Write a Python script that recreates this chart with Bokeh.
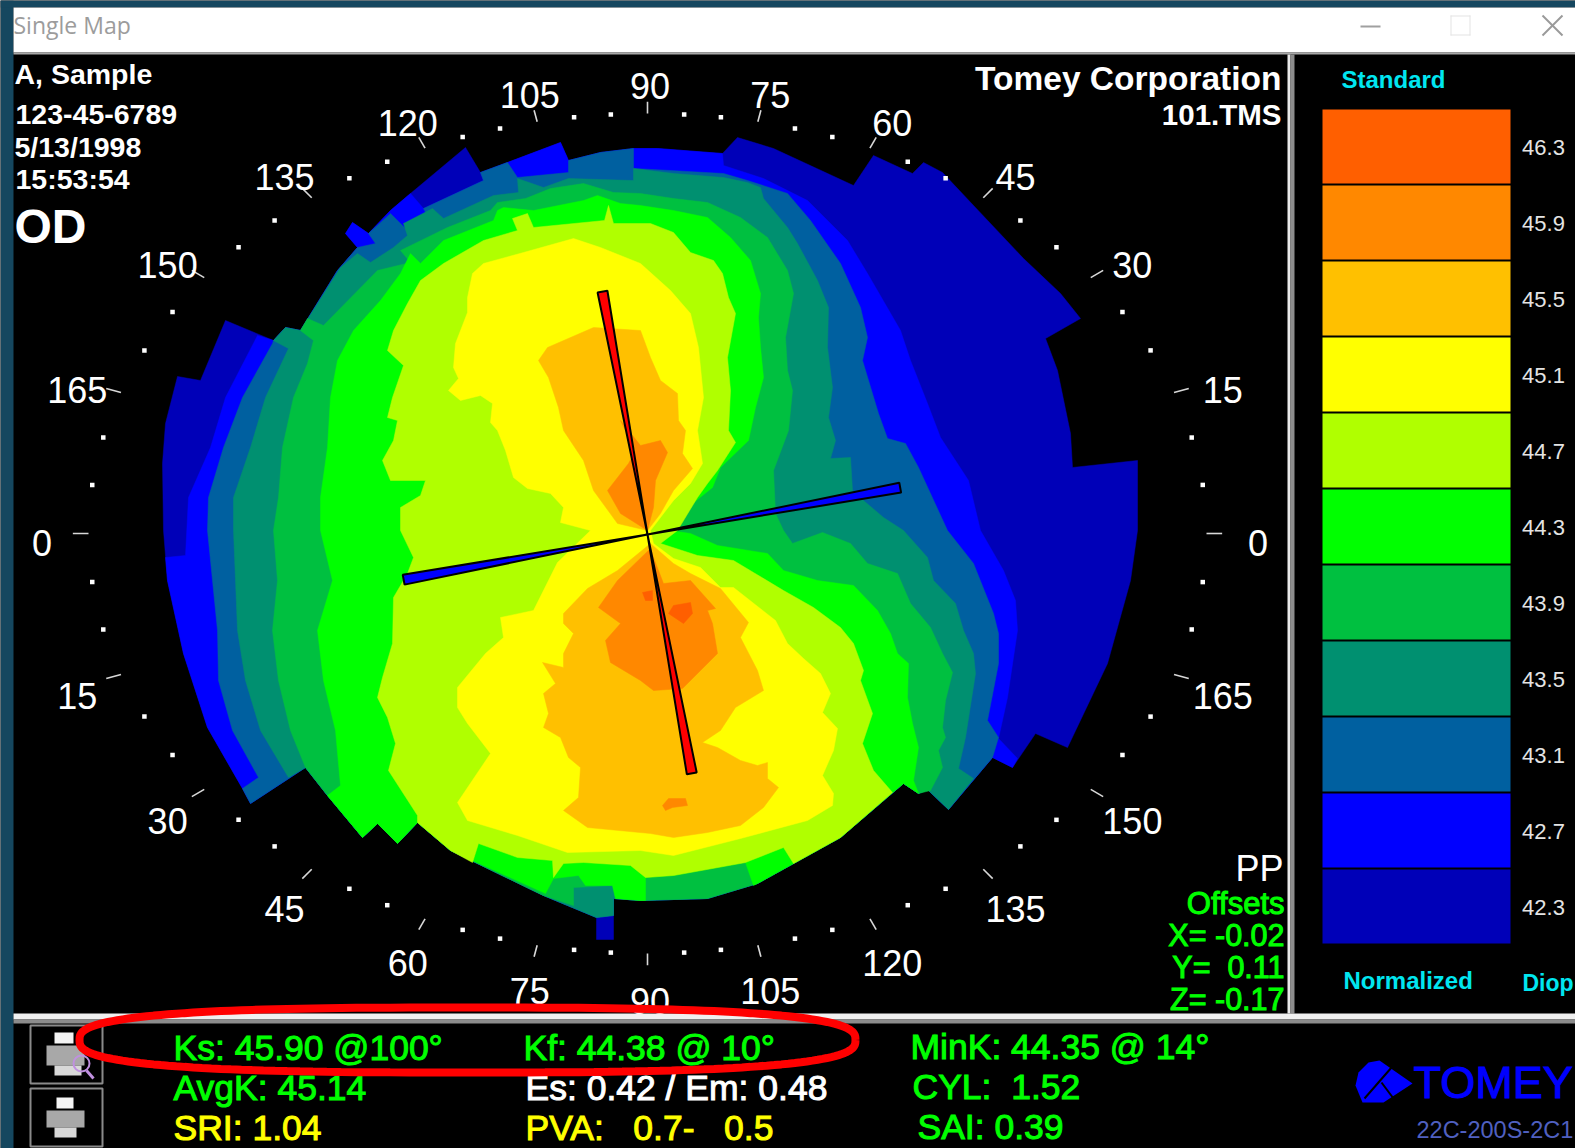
import numpy as np
from bokeh.plotting import figure
from bokeh.models import Range1d
from bokeh.core.properties import value
from bokeh.embed import file_html
from bokeh.resources import INLINE

# ---- data ----------------------------------------------------------------
LEGEND_VALUES = ["46.3", "45.9", "45.5", "45.1", "44.7", "44.3", "43.9", "43.5", "43.1", "42.7", "42.3"]
LEGEND_COLORS = ["#FF5F00", "#FF8800", "#FFC000", "#FFFF00", "#B0FF00", "#00FF00",
                 "#00C040", "#009070", "#0060A0", "#0000FF", "#0000B8"]
MERIDIAN_LABELS = ["0", "15", "30", "45", "60", "75", "90", "105", "120", "135", "150", "165",
                   "0", "15", "30", "45", "60", "75", "90", "105", "120", "135", "150", "165"]
STEEP_AXIS_DEG = 100.5
FLAT_AXIS_DEG = 10.5
STEEP_ARMS = [247, 243]
FLAT_ARMS = [257, 248]

band_423 = [(1137,460),(1072,467),(1070,433),(1057,370),(1045,338),(1080,318),(1060,293),(1023,258),(973,205),(942,172),(923,162),(912,173),(873,155),(853,185),(773,148),(737,137),(722,153),(657,148),(633,148),(600,152),(568,160),(560,142),(507,162),(480,172),(465,147),(410,193),(390,210),(368,233),(352,222),(345,233),(357,247),(337,270),(300,330),(285,327),(273,340),(225,320),(200,380),(177,376),(165,423),(162,463),(163,530),(167,580),(183,653),(207,727),(242,788),(250,803),(305,767),(327,795),(362,837),(377,823),(397,843),(417,822),(450,850),(543,895),(596,917),(596,939),(613,939),(613,898),(640,900),(707,898),(757,883),(840,837),(903,783),(918,793),(927,789),(948,809),(992,757),(1012,767),(1035,733),(1067,747),(1107,663),(1130,580),(1137,530)]
band_427 = [(980,530),(968,480),(940,437),(927,403),(910,360),(900,330),(867,273),(847,240),(807,200),(763,178),(723,165),(722,153),(657,148),(633,148),(600,152),(568,160),(560,142),(507,162),(480,172),(483,180),(423,208),(410,193),(390,210),(368,233),(352,222),(345,233),(357,247),(337,270),(300,330),(285,327),(273,340),(257,335),(225,397),(210,447),(188,497),(185,555),(165,557),(167,580),(183,653),(207,727),(242,788),(250,803),(305,767),(327,795),(362,837),(377,823),(397,843),(417,822),(450,850),(543,895),(596,917),(613,915),(613,898),(640,900),(707,898),(757,883),(840,837),(903,783),(918,793),(927,789),(948,809),(992,757),(1012,767),(1017,758),(998,738),(1007,697),(1017,630),(1015,600),(1003,570)]
band_431 = [(947,530),(918,467),(905,443),(887,438),(878,413),(862,360),(867,337),(860,307),(840,263),(810,220),(787,193),(747,180),(723,173),(670,170),(633,168),(633,148),(600,152),(568,160),(568,172),(517,177),(507,162),(480,172),(483,180),(423,208),(428,217),(405,228),(390,213),(368,233),(375,243),(357,247),(337,270),(300,330),(285,327),(273,340),(272,343),(242,397),(223,447),(208,497),(207,530),(212,580),(217,630),(218,680),(232,730),(258,777),(242,788),(250,803),(305,767),(327,795),(362,837),(377,823),(397,843),(417,822),(450,850),(543,895),(596,917),(613,915),(613,898),(640,900),(707,898),(757,883),(840,837),(903,783),(918,793),(927,789),(948,809),(992,757),(998,737),(987,720),(998,663),(998,633),(993,613),(973,563)]
band_435 = [(903,530),(883,517),(863,500),(852,490),(850,457),(830,458),(835,440),(828,417),(832,387),(827,347),(828,307),(817,280),(797,243),(787,227),(763,198),(760,187),(747,182),(723,177),(673,173),(633,168),(633,180),(568,178),(543,187),(517,178),(518,192),(493,195),(443,218),(432,208),(403,223),(407,235),(393,247),(370,262),(357,253),(340,267),(300,330),(285,327),(273,340),(288,348),(265,397),(250,447),(233,497),(233,530),(235,580),(237,630),(245,680),(260,730),(288,777),(305,767),(327,795),(362,837),(377,823),(397,843),(417,822),(450,850),(543,895),(596,917),(613,915),(613,898),(640,900),(707,898),(757,883),(840,837),(903,783),(918,793),(927,789),(948,809),(973,778),(958,768),(965,737),(975,673),(973,653),(963,630),(955,603),(933,580),(927,557)]
band_439 = [(783,530),(775,513),(773,470),(788,430),(792,390),(787,370),(785,337),(793,293),(787,270),(767,237),(740,217),(707,202),(673,198),(640,193),(613,192),(583,183),(550,188),(525,198),(497,202),(490,210),(447,227),(400,250),(410,262),(377,270),(323,325),(307,318),(300,330),(313,340),(307,363),(293,397),(282,447),(278,497),(273,530),(277,580),(272,630),(278,680),(290,730),(305,767),(327,795),(362,837),(377,823),(397,843),(417,822),(450,850),(543,895),(573,905),(573,887),(612,885),(615,898),(640,900),(707,898),(757,883),(840,837),(903,783),(918,793),(930,790),(942,767),(938,750),(945,737),(942,727),(945,700),(952,672),(942,653),(930,627),(910,603),(897,573),(867,563),(850,543),(822,532),(792,543)]
band_443 = [(670,530),(687,507),(712,487),(720,467),(748,440),(755,407),(763,377),(760,347),(758,317),(760,293),(750,260),(730,237),(707,217),(673,210),(640,205),(620,203),(597,195),(583,200),(533,210),(503,207),(497,210),(493,220),(443,240),(420,263),(410,253),(400,273),(380,300),(353,330),(337,360),(330,397),(327,447),(320,497),(320,530),(332,580),(317,630),(323,680),(335,730),(340,785),(327,795),(362,837),(377,823),(397,843),(417,822),(450,850),(545,893),(553,878),(578,875),(585,885),(612,885),(615,898),(640,900),(645,900),(645,877),(673,875),(745,862),(753,885),(757,883),(840,837),(892,792),(903,783),(918,793),(913,780),(918,747),(912,723),(907,697),(908,663),(897,653),(890,633),(877,610),(853,585),(817,580),(783,570),(767,553),(717,545),(690,533)]
band_447 = [(677,530),(697,497),(707,483),(717,470),(735,442),(728,430),(730,390),(727,357),(735,313),(728,297),(722,273),(713,260),(690,252),(673,232),(650,223),(613,223),(608,205),(604,220),(533,227),(527,213),(512,218),(517,230),(483,240),(443,263),(420,280),(407,303),(393,330),(387,350),(403,365),(392,397),(387,417),(397,420),(393,440),(382,460),(390,480),(425,480),(420,495),(400,507),(400,530),(413,557),(407,573),(393,597),(392,643),(382,677),(377,697),(387,717),(395,743),(388,770),(417,815),(417,822),(450,850),(472,862),(478,843),(517,857),(552,860),(553,877),(563,863),(583,862),(630,865),(645,877),(673,875),(745,862),(783,847),(793,863),(840,837),(892,792),(873,770),(862,743),(872,713),(860,680),(863,670),(853,643),(840,627),(813,607),(783,590),(753,572),(733,560),(697,555),(660,543)]
band_451 = [(650,530),(673,500),(690,483),(702,463),(697,430),(703,397),(698,347),(690,313),(670,290),(640,263),(600,247),(573,238),(523,252),(483,263),(472,273),(467,297),(467,312),(455,343),(453,367),(458,378),(448,390),(460,400),(480,395),(492,403),(490,422),(497,430),(505,450),(513,477),(527,488),(550,493),(563,507),(560,522),(590,530),(557,562),(533,610),(500,617),(503,637),(485,653),(457,687),(457,707),(467,723),(490,753),(457,802),(467,820),(517,835),(567,852),(640,850),(673,855),(740,838),(807,820),(832,805),(833,793),(822,775),(833,750),(837,728),(822,712),(830,693),(820,673),(803,658),(787,643),(775,620),(733,587),(720,587),(700,567),(673,558),(653,543)]
band_455_upper = [(647,530),(660,513),(673,490),(692,468),(682,453),(685,430),(678,420),(677,393),(660,380),(650,357),(640,330),(593,327),(547,347),(538,360),(548,377),(558,407),(563,430),(583,460),(593,490),(617,523)]
band_455_lower = [(650,543),(617,570),(587,588),(563,613),(563,623),(573,633),(563,653),(563,667),(542,662),(555,683),(543,693),(548,713),(543,727),(560,737),(568,757),(580,767),(578,797),(563,810),(587,827),(650,833),(673,837),(707,832),(740,825),(763,807),(778,787),(767,778),(767,762),(757,765),(740,760),(717,747),(702,742),(720,730),(735,707),(763,690),(757,670),(740,637),(748,622),(720,588),(690,573),(673,563)]
band_459_upper = [(620,420),(640,445),(660,440),(667,452),(655,480),(653,507),(647,530),(620,513),(607,490),(628,463),(635,450)]
band_459_lower = [(650,548),(617,580),(598,607),(620,623),(605,640),(610,662),(640,680),(653,690),(682,688),(700,670),(717,653),(712,623),(707,610),(715,608),(690,580),(663,583),(653,557)]
band_459_island = [(662,805),(668,798),(685,798),(687,805),(672,807),(665,810)]
band_463_a = [(668,613),(673,605),(690,602),(692,613),(683,623)]
band_463_b = [(642,592),(652,590),(652,600),(645,600)]

TEXT_WHITE = "#FFFFFF"
GREEN = "#00FF00"
YELLOW = "#FFFF00"
CYAN = "#00E6F0"
FONT = value("Liberation Sans")
NB = "\u00a0"

p = figure(width=1575, height=1148, output_backend="svg", toolbar_location=None,
           x_range=Range1d(0, 1575), y_range=Range1d(1148, 0),
           background_fill_color="#000000", border_fill_color="#000000", min_border=0,
           outline_line_color=None)
p.axis.visible = False
p.grid.visible = False


def box(l, r, t, b, color):
    p.quad(left=[l], right=[r], top=[t], bottom=[b], fill_color=color, line_color=None)


def write(x, y, s, size, color=TEXT_WHITE, align="left", style="normal", font=FONT, heavy=False):
    g = p.text(x=[x], y=[y], text=[s], text_color=color, text_font=font, text_font_size=f"{size}px",
               text_align=align, text_baseline="middle", text_font_style=style)
    if heavy:
        g.glyph.text_outline_color = color


# contour bands, outermost first
band_layers = [
    (band_423, "#0000B8"), (band_427, "#0000FF"), (band_431, "#0060A0"), (band_435, "#009070"),
    (band_439, "#00C040"), (band_443, "#00FF00"), (band_447, "#B0FF00"), (band_451, "#FFFF00"),
    (band_455_upper, "#FFC000"), (band_455_lower, "#FFC000"),
    (band_459_upper, "#FF8800"), (band_459_lower, "#FF8800"), (band_459_island, "#FF8800"),
    (band_463_a, "#FF5F00"), (band_463_b, "#FF5F00"),
]
for contour, color in band_layers:
    xs, ys = zip(*contour)
    p.patch(x=list(xs), y=list(ys), fill_color=color, line_color=color, line_width=0.5)

# meridian ring
CX, CY = 647, 533
RX, RY = 559, 420
LX, LY, LRX, LRY = 649.5, 542.5, 608, 457.5


def ring_radius(t, rx, ry):
    return 1 / np.sqrt((np.cos(t) / rx) ** 2 + (np.sin(t) / ry) ** 2)


deg = np.arange(0, 360, 5)
minor = deg[deg % 15 != 0]
t = np.radians(minor)
r = ring_radius(t, RX, RY)
p.scatter(x=CX + r * np.cos(t), y=CY - r * np.sin(t), marker="square", size=4.5,
          fill_color="#FFFFFF", line_color=None)

major = deg[deg % 15 == 0]
t = np.radians(major)
r = ring_radius(t, RX, RY)
p.segment(x0=CX + r * np.cos(t), y0=CY - r * np.sin(t),
          x1=CX + 1.028 * r * np.cos(t), y1=CY - 1.028 * r * np.sin(t),
          line_color="#D8D8D8", line_width=1.6)
lr = ring_radius(t, LRX, LRY)
p.text(x=LX + lr * np.cos(t), y=LY - lr * np.sin(t), text=MERIDIAN_LABELS, text_color=TEXT_WHITE,
       text_font=FONT, text_font_size="36px", text_align="center", text_baseline="middle")

# principal axes
AX, AY = 647, 534


def axis_wedges(angle_deg, arms, color):
    a = np.radians(angle_deg)
    for sign, arm in zip((1, -1), arms):
        ex = AX + sign * arm * np.cos(a)
        ey = AY - sign * arm * np.sin(a)
        nx, ny = 5 * np.sin(a), 5 * np.cos(a)
        p.patch(x=[AX, ex + nx, ex - nx], y=[AY, ey + ny, ey - ny],
                fill_color=color, line_color="#000000", line_width=2)


axis_wedges(FLAT_AXIS_DEG, FLAT_ARMS, "#0000FF")
axis_wedges(STEEP_AXIS_DEG, STEEP_ARMS, "#FF0000")

# legend
n = len(LEGEND_VALUES)
step = (943 - 109 + 2) / n
tops = 109 + step * np.arange(n)
p.quad(left=1322, right=1510, top=tops, bottom=tops + step - 2, fill_color=LEGEND_COLORS, line_color=None)
p.text(x=1543, y=tops + step / 2, text=LEGEND_VALUES, text_color="#E4E4E4", text_font=FONT,
       text_font_size="22px", text_align="center", text_baseline="middle")
write(1341, 79, "Standard", 24, CYAN, style="bold")
write(1343, 980, "Normalized", 24, CYAN, style="bold")
write(1522, 982, "Diop", 23, CYAN, style="bold")

# header texts
write(14, 73, "A, Sample", 28.5, style="bold")
write(15, 114, "123-45-6789", 28.5, style="bold")
write(14, 146, "5/13/1998", 28.5, style="bold")
write(15, 178, "15:53:54", 28.5, style="bold")
write(14, 226, "OD", 48, style="bold")
write(1281, 78, "Tomey Corporation", 33.5, align="right", style="bold")
write(1281, 114, "101.TMS", 29.5, align="right", style="bold")
write(1283, 868, "PP", 36, align="right")
write(1284, 903, "Offsets", 31, GREEN, align="right", heavy=True)
write(1284, 934, "X= -0.02", 30.5, GREEN, align="right", heavy=True)
write(1284, 966, f"Y={NB}{NB}0.11", 30.5, GREEN, align="right", heavy=True)
write(1284, 998, "Z= -0.17", 30.5, GREEN, align="right", heavy=True)

# window chrome
TEAL = "#15475F"
box(0, 13, 0, 1148, TEAL)
box(0, 1575, 0, 7, TEAL)
box(13, 1575, 7, 52, "#FFFFFF")
box(13, 1575, 52, 54, "#A8A8A8")
write(13, 24, "Single Map", 23, "#9C9C9C", font=value("Open Sans"))
box(1360, 1380, 25, 27, "#A0A0A0")
box(1450, 1470, 15, 16, "#E4E4E4")
box(1450, 1470, 34, 35, "#E4E4E4")
box(1450, 1451, 15, 35, "#E4E4E4")
box(1469, 1470, 15, 35, "#E4E4E4")
p.segment(x0=[1542, 1542], y0=[15, 35], x1=[1562, 1562], y1=[35, 15], line_color="#9A9A9A", line_width=2)
box(1287, 1290, 54, 1013, "#E8E8E8")
box(1290, 1294, 54, 1013, "#8C8C8C")
box(13, 1575, 1013, 1019, "#F0F0F0")
box(13, 1575, 1019, 1023, "#8C8C8C")

# bottom readouts
write(173, 1047, "Ks: 45.90 @100°", 35.5, GREEN, heavy=True)
write(523, 1047, "Kf: 44.38 @ 10°", 35.5, GREEN, heavy=True)
write(910, 1046, "MinK: 44.35 @ 14°", 35.5, GREEN, heavy=True)
write(173, 1087, "AvgK: 45.14", 35.5, GREEN, heavy=True)
write(525, 1087, "Es: 0.42 / Em: 0.48", 35.5, TEXT_WHITE, heavy=True)
write(912, 1086, f"CYL:{NB}{NB}1.52", 35.5, GREEN, heavy=True)
write(173, 1127, "SRI: 1.04", 35.5, YELLOW, heavy=True)
write(525, 1127, f"PVA:{NB}{NB}{NB}0.7-{NB}{NB}{NB}0.5", 35.5, YELLOW, heavy=True)
write(917, 1126, "SAI: 0.39", 35.5, GREEN, heavy=True)

# printer buttons
for top in (1025, 1088):
    p.quad(left=[30], right=[102], top=[top], bottom=[top + 58], fill_color=None, line_color="#8A8A8A", line_width=2)
box(54, 73, 1032, 1043, "#F4F4F4")
box(46, 84, 1045, 1065, "#A8A8A8")
box(54, 81, 1065, 1075, "#D8D8D8")
p.circle(x=[81], y=[1063], radius=8, fill_color=None, line_color="#C090E0", line_width=2)
p.segment(x0=[86], y0=[1070], x1=[93], y1=[1078], line_color="#C090E0", line_width=3)
box(56, 73, 1097, 1108, "#F4F4F4")
box(46, 84, 1110, 1127, "#A8A8A8")
box(54, 76, 1127, 1137, "#D8D8D8")

# logo
p.patch(x=[1379, 1412, 1383, 1362, 1355, 1358, 1368], y=[1060, 1083, 1102, 1102, 1085, 1072, 1062],
        fill_color="#0000FF", line_color=None)
p.segment(x0=[1391, 1381], y0=[1067, 1082], x1=[1364, 1396], y1=[1098, 1102], line_color="#000000", line_width=2)
write(1413, 1082, "TOMEY", 45, "#0000FF", heavy=True)
write(1416, 1129, "22C-200S-2C1", 23.5, "#5060C0")

# annotation ring (hand-drawn, slightly squared ellipse)
ring_t = np.linspace(0, 2 * np.pi, 181)
ring_c, ring_s = np.cos(ring_t), np.sin(ring_t)
p.line(x=467 + 388 * np.sign(ring_c) * np.abs(ring_c) ** (2 / 2.8),
       y=1039.5 + 32.5 * np.sign(ring_s) * np.abs(ring_s) ** (2 / 2.8),
       line_color="#FF0000", line_width=8)

open("out.html", "w").write(file_html(p, INLINE))
